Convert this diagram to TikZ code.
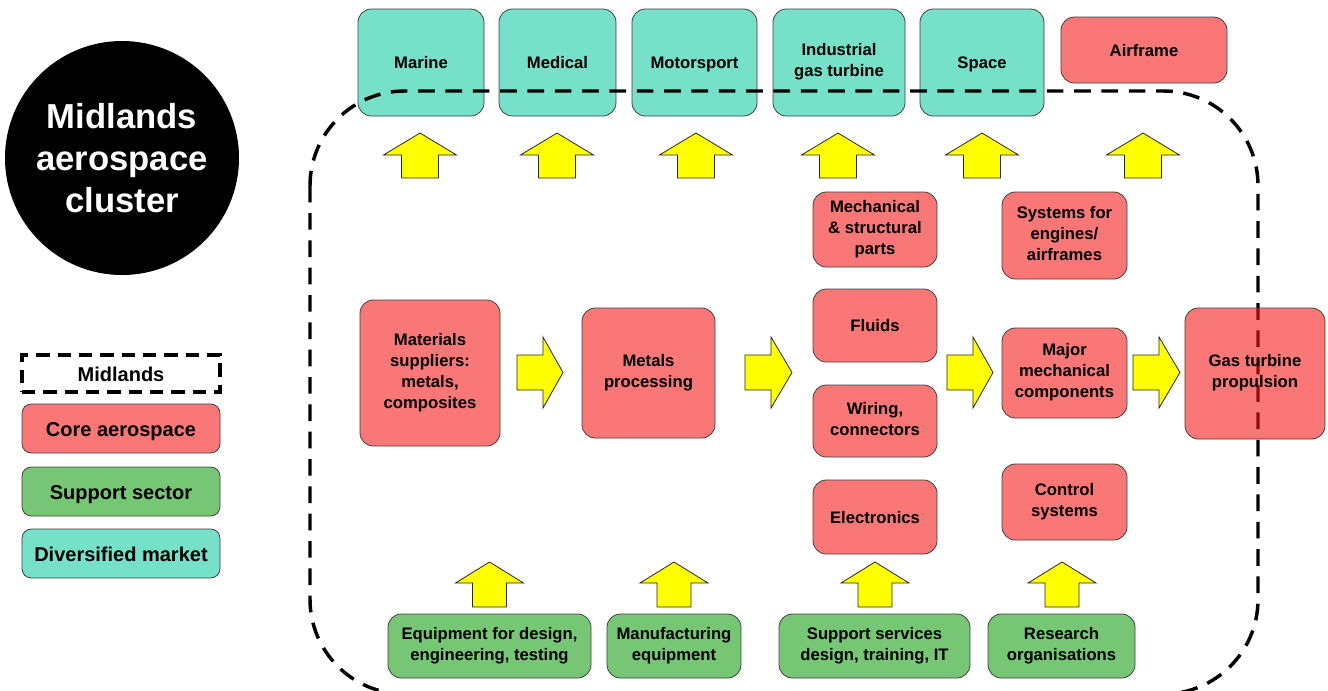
\documentclass[tikz,border=0pt]{standalone}
\usepackage{fontspec}
\setmainfont{Liberation Sans}
\definecolor{corecol}{HTML}{FA7777}
\definecolor{suppcol}{HTML}{76C676}
\definecolor{divcol}{HTML}{76E0C8}
\definecolor{arrcol}{HTML}{FFFF00}
\definecolor{throughcol}{HTML}{960C0C}
\newcommand\boxstrut{\rule[-0.25em]{0pt}{1.25em}}
\newcommand\pbox[7]{%
  \pgfmathsetmacro\bw{(#4-#2)*0.75}%
  \pgfmathsetmacro\bh{(#5-#3)*0.75}%
  \node[#6, minimum width=\bw pt, minimum height=\bh pt] (#1) at ({(#2+#4)/2},{(#3+#5)/2}) {#7};}
% up arrow: center x, tip y, half head, half shaft, head height, total height
\newcommand\uparr[6]{%
  \draw[blockarrow] (#1,#2) -- ({#1+#3},{#2+#5}) -- ({#1+#4},{#2+#5}) -- ({#1+#4},{#2+#6})
    -- ({#1-#4},{#2+#6}) -- ({#1-#4},{#2+#5}) -- ({#1-#3},{#2+#5}) -- cycle;}
% right arrow: start x, tip x
\newcommand\rarr[2]{%
  \draw[blockarrow] (#1,355) -- ({#1+26},355) -- ({#1+26},337) -- (#2,372.5)
    -- ({#1+26},408) -- ({#1+26},390) -- (#1,390) -- cycle;}
\tikzset{
  box/.style={draw=black!75, line width=0.6pt, rounded corners=10pt, inner sep=1pt,
    align=center, outer sep=0pt, font=\bfseries\fontsize{12.5}{15.75}\selectfont,
    execute at begin node=\boxstrut, execute at end node=\boxstrut},
  corebox/.style={box, fill=corecol},
  suppbox/.style={box, fill=suppcol},
  divbox/.style={box, fill=divcol},
  legbox/.style={box, rounded corners=7pt, font=\bfseries\fontsize{15}{18}\selectfont},
  blockarrow/.style={fill=arrcol, draw=black!85, line width=0.6pt, line join=miter},
  boundary/.style={line width=2.6pt, dash pattern=on 12.5pt off 8pt, rounded corners=71pt},
}
\begin{document}
\begin{tikzpicture}[x=0.75pt,y=-0.75pt]
\useasboundingbox (0,0) rectangle (1328,690);

% title circle
\node[circle, fill=black, minimum size=175.5pt, inner sep=0pt, align=center, text=white,
  font=\bfseries\fontsize{26}{31.5}\selectfont] (title) at (122,158) {Midlands\\aerospace\\cluster};

% legend
\pbox{legmid}{22}{355}{220}{392}{legbox, rounded corners=0pt, draw=black, line width=2.4pt, dash pattern=on 10pt off 6pt}{Midlands}
\pbox{legcore}{22}{404}{220}{453}{legbox, fill=corecol}{Core aerospace}
\pbox{legsupp}{22}{467}{220}{516}{legbox, fill=suppcol}{Support sector}
\pbox{legdiv}{22}{529}{220}{578}{legbox, fill=divcol}{Diversified market}

% diversified markets
\pbox{marine}{358}{9}{484}{116}{divbox}{Marine}
\pbox{medical}{499}{9}{616}{116}{divbox}{Medical}
\pbox{motor}{632}{9}{757}{116}{divbox}{Motorsport}
\pbox{igt}{773}{9}{905}{116}{divbox}{Industrial\\gas turbine}
\pbox{space}{920}{9}{1044}{116}{divbox}{Space}
\pbox{airframe}{1061}{17}{1227}{83}{corebox}{Airframe}

% up arrows to markets
\uparr{420}{133}{36.5}{18.5}{22}{45}
\uparr{557}{133}{36.5}{18.5}{22}{45}
\uparr{696}{133}{36.5}{18.5}{22}{45}
\uparr{838}{133}{36.5}{18.5}{22}{45}
\uparr{982}{133}{36.5}{18.5}{22}{45}
\uparr{1143}{133}{36.5}{18.5}{22}{45}

% core chain
\pbox{materials}{360}{300}{500}{446}{corebox}{Materials\\suppliers:\\metals,\\composites}
\pbox{metals}{582}{308}{715}{438}{corebox}{Metals\\processing}
\pbox{mech}{813}{192}{937}{267}{corebox}{Mechanical\\\& structural\\parts}
\pbox{fluids}{813}{289}{937}{362}{corebox}{Fluids}
\pbox{wiring}{813}{385}{937}{457}{corebox}{Wiring,\\connectors}
\pbox{electronics}{813}{480}{937}{554}{corebox}{Electronics}
\pbox{systems}{1002}{192}{1127}{279}{corebox}{Systems for\\engines/\\airframes}
\pbox{major}{1002}{328}{1127}{418}{corebox}{Major\\mechanical\\components}
\pbox{control}{1002}{464}{1127}{540}{corebox}{Control\\systems}

\rarr{517}{563}
\rarr{745}{792}
\rarr{947}{993}
\rarr{1133}{1180}

% support sector
\pbox{equip}{388}{614}{591}{678}{suppbox}{Equipment for design,\\engineering, testing}
\pbox{manuf}{607}{614}{741}{678}{suppbox}{Manufacturing\\equipment}
\pbox{services}{779}{614}{970}{678}{suppbox}{Support services\\design, training, IT}
\pbox{research}{988}{614}{1135}{678}{suppbox}{Research\\organisations}

\uparr{489.5}{562}{34}{17}{21}{45}
\uparr{674}{562}{34}{17}{21}{45}
\uparr{875}{562}{34}{17}{21}{45}
\uparr{1062}{562}{34}{17}{21}{45}

% Midlands boundary
\draw[boundary] (310,91) rectangle (1258,694);

% gas turbine box on top; the boundary shows through it in dark red
\pbox{gasturbine}{1185}{308}{1325}{439}{corebox}{}
\begin{scope}
  \clip[rounded corners=10pt] (gasturbine.south west) rectangle (gasturbine.north east);
  \draw[boundary, draw=throughcol] (310,91) rectangle (1258,694);
\end{scope}
\node[box, draw=none, fill=none] (gtlabel) at (gasturbine.center) {Gas turbine\\propulsion};
\end{tikzpicture}
\end{document}
